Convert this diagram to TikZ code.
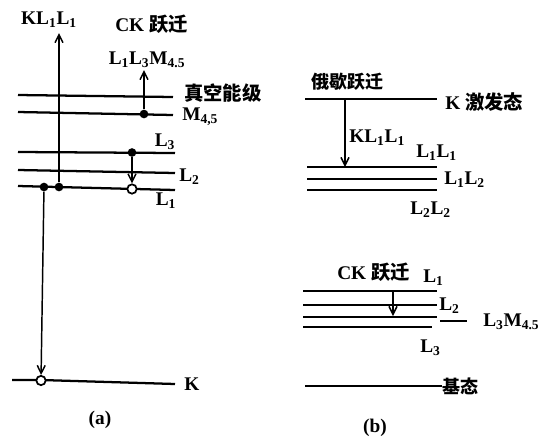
\documentclass[tikz,border=0pt]{standalone}
\usepackage{fontspec}
\setmainfont{Liberation Serif}
\newfontfamily\cjk{Noto Sans CJK SC}
\usetikzlibrary{arrows.meta}
\newcommand\sub[1]{\textsubscript{#1}}
\begin{document}
\begin{tikzpicture}[x=0.75pt,y=-0.75pt,
  lvl/.style={line width=1.7pt},
  arr/.style={line width=1.1pt,-{Straight Barb[length=6pt,width=6pt,line width=1.1pt]}},
  fdot/.style={circle,fill=black,inner sep=0pt,minimum size=6.5pt},
  odot/.style={circle,draw=black,fill=white,line width=1.3pt,inner sep=0pt,minimum size=7pt},
  lab/.style={font=\fontsize{14.5}{15}\selectfont\bfseries,inner sep=0pt},
  clab/.style={font=\fontsize{13.5}{15}\selectfont\cjk\bfseries,inner sep=0pt}]
\useasboundingbox (0,0) rectangle (547,437);
% ---------- (a) ----------
\draw[lvl] (18,95) -- (173,97);
\draw[lvl] (18,112) -- (173,115);
\draw[lvl] (18,152) -- (175,153);
\draw[lvl] (18,170) -- (175,173);
\draw[lvl] (18,186) -- (175,190);
\draw[lvl] (12,380) -- (41,380) -- (175,384);
\coordinate (topA) at (59,33);
\coordinate (topM) at (144,70);
\node[fdot] (d1) at (44,187) {};
\node[fdot] (d2) at (59,187) {};
\node[fdot] (dM) at (144,114) {};
\node[fdot] (d3) at (132,152.5) {};
\node[odot] (o1) at (132,189) {};
\node[odot] (oK) at (41,380.5) {};
\draw[arr] (d2) -- (topA);
\draw[arr] (dM) -- (topM);
\draw[arr] (d3) -- (o1);
\draw[arr] (d1) -- (oK);
\node[lab] (t1) at (49,20) {KL\sub{1}L\sub{1}};
\node[lab,anchor=west] (t2) at (115,24) {CK \cjk 跃迁};
\node[lab] (t3) at (147,60) {L\sub{1}L\sub{3}M\sub{4.5}};
\node[clab,anchor=west,font=\fontsize{14.5}{15}\selectfont\cjk\bfseries] (t4) at (184,93) {真空能级};
\node[lab,anchor=west] (t5) at (182,117) {M\sub{4,5}};
\node[lab] (t6) at (165,142) {L\sub{3}};
\node[lab,anchor=west] (t7) at (179,177) {L\sub{2}};
\node[lab] (t8) at (166,201) {L\sub{1}};
\node[lab,anchor=west] (t9) at (184,384) {K};
\node[lab] (t10) at (100,420) {(a)};
% ---------- (b) ----------
\draw[lvl] (305,99) -- (437,99);
\draw[lvl] (307,167) -- (437,167);
\draw[lvl] (307,179) -- (437,179);
\draw[lvl] (307,190) -- (437,190);
\coordinate (bA) at (345,99);
\coordinate (bB) at (345,167);
\draw[arr] (bA) -- (bB);
\node[clab,anchor=west] (u1) at (311,82) {俄歇跃迁};
\node[lab,anchor=west] (u2) at (445,102) {K \cjk 激发态};
\node[lab,anchor=west] (u3) at (349,138) {KL\sub{1}L\sub{1}};
\node[lab,anchor=west] (u4) at (416,153) {L\sub{1}L\sub{1}};
\node[lab,anchor=west] (u5) at (444,180) {L\sub{1}L\sub{2}};
\node[lab,anchor=west] (u6) at (410,210) {L\sub{2}L\sub{2}};
\draw[lvl] (303,291) -- (437,291);
\draw[lvl] (303,305) -- (437,305);
\draw[lvl] (303,317) -- (437,317);
\draw[lvl] (303,327) -- (432,327);
\draw[lvl] (440,321) -- (467,321);
\coordinate (cA) at (393,291);
\coordinate (cB) at (393,316);
\draw[arr] (cA) -- (cB);
\draw[lvl] (305,386) -- (442,386);
\node[lab,anchor=west] (v1) at (337,272) {CK \cjk 跃迁};
\node[lab,anchor=west] (v2) at (423,278) {L\sub{1}};
\node[lab,anchor=west] (v3) at (439,306) {L\sub{2}};
\node[lab,anchor=west] (v4) at (483,322) {L\sub{3}M\sub{4.5}};
\node[lab,anchor=west] (v5) at (420,348) {L\sub{3}};
\node[clab,anchor=west] (v6) at (442,386) {基态};
\node[lab] (v7) at (375,428) {(b)};
\end{tikzpicture}
\end{document}
